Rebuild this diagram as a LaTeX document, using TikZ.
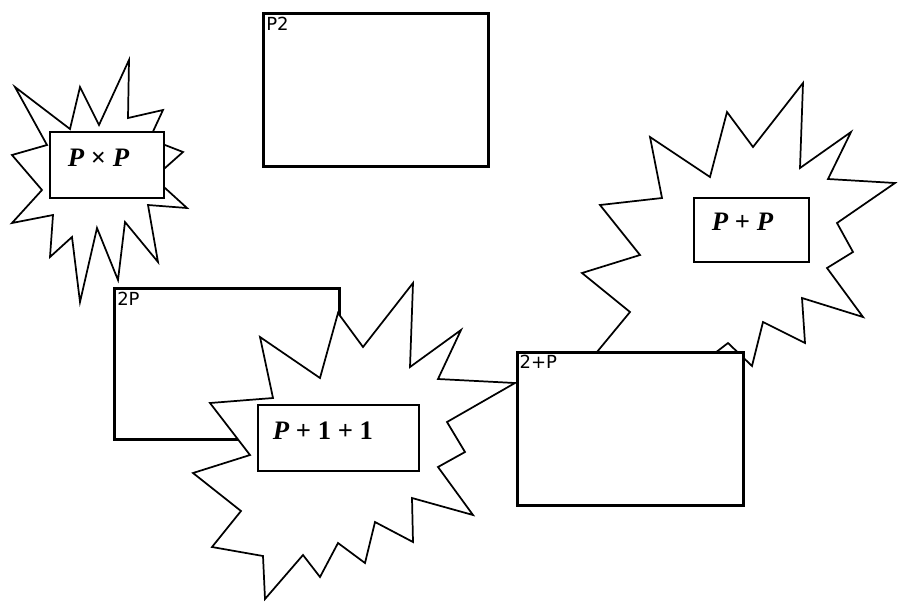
\documentclass[tikz,border=0pt]{standalone}
\usepackage{fontspec}
\setmainfont{Liberation Serif}
\newfontfamily\lblfont{DejaVu Sans}
\newcommand\opsp{\hspace{0.25em}}
\begin{document}
\begin{tikzpicture}[x=0.75pt,y=-0.75pt,
  burst/.style={draw=black, fill=white, line width=1.3pt, line join=miter},
  bigbox/.style={draw=black, fill=white, line width=2.3pt, inner sep=0pt, anchor=north west},
  midbox/.style={draw=black, fill=white, line width=1.9pt, inner sep=0pt, anchor=north west},
  smallbox/.style={draw=black, fill=white, line width=1.3pt, inner sep=0pt, anchor=north west},
  mathlbl/.style={inner sep=0pt, font=\fontsize{20}{22}\selectfont\bfseries},
  cornerlbl/.style={inner sep=0pt, anchor=north west, font=\lblfont\fontsize{13.5}{15}\selectfont}]
\useasboundingbox (0,0) rectangle (898,601);

% P2 box
\node[bigbox, minimum width=168.75pt, minimum height=114.75pt] (p2) at (262,12) {};
\node[cornerlbl] (p2l) at ([xshift=3pt,yshift=-3.5pt]p2.north west) {P2};

% P x P starburst
\draw[burst] (12,155) -- (47,145) -- (15,87) -- (70,129) -- (80,87) -- (99,125) -- (129,60) -- (128,118)
  -- (163,110) -- (150,138) -- (165,145) -- (183,152) -- (165,168) -- (150,178) -- (165,188) -- (187,208)
  -- (148,205) -- (158,262) -- (125,222) -- (118,280) -- (97,228) -- (80,302) -- (72,237) -- (50,257)
  -- (53,215) -- (12,223) -- (42,190) -- cycle;
\node[smallbox, minimum width=85.5pt, minimum height=49.5pt] (pxp) at (49,131) {};
\node[mathlbl] (pxpt) at (98.5,158) {\itshape P\opsp\upshape ×\opsp\itshape P};

% P + P starburst
\draw[burst] (592,358) -- (630,312) -- (582,273) -- (640,255) -- (600,205) -- (662,198) -- (650,137)
  -- (710,177) -- (727,112) -- (753,147) -- (803,83) -- (800,168) -- (851,132) -- (828,179) -- (895,183)
  -- (837,223) -- (853,252) -- (827,268) -- (863,317) -- (802,298) -- (805,343) -- (763,322) -- (752,366)
  -- (728,343) -- (680,380) -- cycle;
\node[smallbox, minimum width=86.25pt, minimum height=48pt] (ppp) at (693,197) {};
\node[mathlbl] (pppt) at (742.5,222) {\itshape P\opsp\upshape +\opsp\itshape P};

% 2P box
\node[bigbox, minimum width=168.75pt, minimum height=113.25pt] (twop) at (113,287) {};
\node[cornerlbl] (twopl) at ([xshift=3pt,yshift=-4pt]twop.north west) {2P};

% P + 1 + 1 starburst
\draw[burst] (338,313) -- (363,347) -- (413,283) -- (410,367) -- (461,330) -- (438,379) -- (515,383)
  -- (447,422) -- (465,452) -- (438,467) -- (473,515) -- (412,498) -- (413,542) -- (375,522) -- (365,563)
  -- (338,543) -- (320,577) -- (303,555) -- (265,599) -- (263,556) -- (212,547) -- (241,511) -- (193,473)
  -- (250,455) -- (210,403) -- (273,398) -- (260,337) -- (320,378) -- cycle;
\node[smallbox, minimum width=120.75pt, minimum height=49.5pt] (p11) at (257,404) {};
\node[mathlbl] (p11t) at (323,431) {\itshape P\opsp\upshape +\opsp 1\opsp +\opsp 1};

% 2 + P box
\node[midbox, minimum width=169.5pt, minimum height=114.75pt] (twoplus) at (516,351) {};
\node[cornerlbl] (twoplusl) at ([xshift=2.5pt,yshift=-3pt]twoplus.north west) {2+P};
\end{tikzpicture}
\end{document}
